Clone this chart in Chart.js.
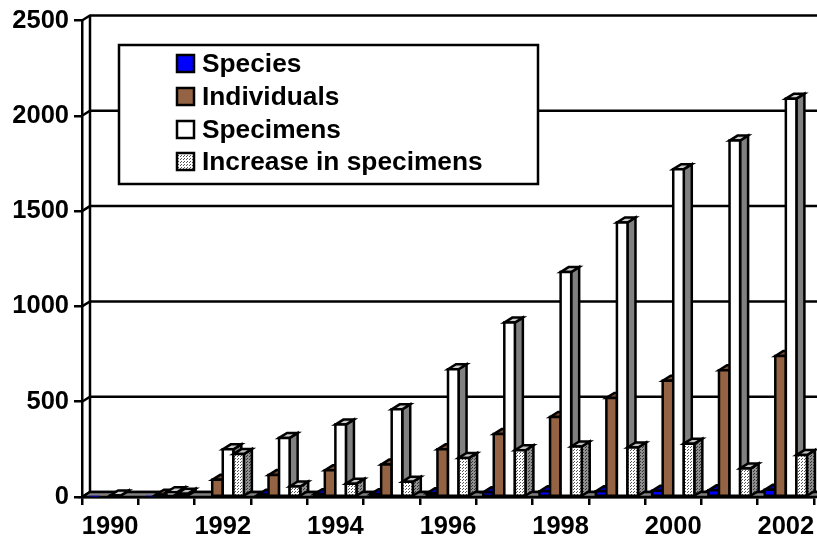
<!DOCTYPE html>
<html>
<head>
<meta charset="utf-8">
<style>
  html, body { margin: 0; padding: 0; background: #fff; }
  canvas { display: block; }
</style>
<script src="https://cdn.jsdelivr.net/npm/chart.js@4"></script>
</head>
<body>
<canvas id="chart" width="817" height="543"></canvas>
<script>
var years = ["1990", "1991", "1992", "1993", "1994", "1995", "1996", "1997", "1998", "1999", "2000", "2001", "2002"];
var species = [2, 4, 6, 12, 15, 15, 20, 25, 30, 30, 33, 35, 38];
var individuals = [5, 12, 90, 115, 140, 170, 250, 330, 420, 520, 610, 665, 740];
var specimens = [8, 25, 250, 310, 380, 460, 670, 915, 1180, 1440, 1720, 1870, 2090];
var increase = [0, 17, 225, 55, 70, 80, 205, 245, 265, 260, 280, 150, 220];
var yTicks = [0, 500, 1000, 1500, 2000, 2500];
var legendY = [63.5, 96.5, 129.5, 161.5];

var FONT = "bold 26.3px 'Liberation Sans', Arial, sans-serif";
var DX = 8, DY = 5;

// stipple used by "Increase in specimens"
function stipple(bg, dot) {
  var c = document.createElement("canvas");
  c.width = 3; c.height = 3;
  var x = c.getContext("2d");
  x.fillStyle = bg; x.fillRect(0, 0, 3, 3);
  x.fillStyle = dot; x.fillRect(0, 0, 1, 1); x.fillRect(1, 2, 1, 1);
  return document.getElementById("chart").getContext("2d").createPattern(c, "repeat");
}
var dots = stipple("#ffffff", "#555555");
var dotsSide = stipple("#909090", "#333333");

var faces = [
  { front: "#0000ff", top: "#0000aa", side: "#000080" },
  { front: "#946343", top: "#7a4f35", side: "#6a452e" },
  { front: "#ffffff", top: "#cccccc", side: "#808080" },
  { front: dots, top: "#c0c0c0", side: dotsSide }
];

function poly(ctx, pts, fill) {
  ctx.beginPath();
  ctx.moveTo(pts[0][0], pts[0][1]);
  for (var i = 1; i < pts.length; i++) ctx.lineTo(pts[i][0], pts[i][1]);
  ctx.closePath();
  ctx.fillStyle = fill;
  ctx.fill();
  ctx.stroke();
}

// back wall, floor and the offset grid lines
var wallPlugin = {
  id: "wall",
  beforeDatasetsDraw: function (chart) {
    var ctx = chart.ctx, a = chart.chartArea, y = chart.scales.y;
    var right = chart.width;
    ctx.save();
    ctx.strokeStyle = "#000";
    ctx.lineWidth = 2.5;
    yTicks.forEach(function (v) {
      var py = y.getPixelForValue(v);
      ctx.beginPath();
      ctx.moveTo(a.left, py);
      ctx.lineTo(a.left + DX, py - DY);
      ctx.lineTo(right, py - DY);
      ctx.stroke();
    });
    ctx.beginPath();
    ctx.moveTo(a.left + DX, y.getPixelForValue(0) - DY);
    ctx.lineTo(a.left + DX, y.getPixelForValue(2500) - DY);
    ctx.stroke();
    var b = y.getPixelForValue(0);
    poly(ctx, [[a.left, b], [a.left + DX, b - DY], [right + DX, b - DY], [right, b]], "#808080");
    ctx.restore();
  }
};

// repaint the bars left to right with their top and side faces
var barsPlugin = {
  id: "bars3d",
  afterDatasetsDraw: function (chart) {
    var ctx = chart.ctx;
    ctx.save();
    ctx.strokeStyle = "#000";
    ctx.lineWidth = 2.5;
    ctx.lineJoin = "miter";
    years.forEach(function (yr, i) {
      for (var d = 0; d < 4; d++) {
        var bar = chart.getDatasetMeta(d).data[i];
        var f = faces[d];
        var l = bar.x - bar.width / 2, r = bar.x + bar.width / 2, t = bar.y, b = bar.base;
        if (b - t <= 0) continue;
        poly(ctx, [[r, b], [r + DX, b - DY], [r + DX, t - DY], [r, t]], f.side);
        poly(ctx, [[l, t], [l + DX, t - DY], [r + DX, t - DY], [r, t]], f.top);
        poly(ctx, [[l, t], [r, t], [r, b], [l, b]], f.front);
      }
    });
    ctx.restore();
  }
};

var legendPlugin = {
  id: "boxLegend",
  afterDraw: function (chart) {
    var ctx = chart.ctx;
    ctx.save();
    ctx.strokeStyle = "#000";
    ctx.lineWidth = 2.5;
    ctx.fillStyle = "#fff";
    ctx.fillRect(119, 45, 419, 139);
    ctx.strokeRect(119, 45, 419, 139);
    ctx.font = FONT;
    ctx.textBaseline = "middle";
    chart.data.datasets.forEach(function (ds, d) {
      var cy = legendY[d];
      ctx.fillStyle = faces[d].front;
      ctx.fillRect(177, cy - 8.5, 17, 17);
      ctx.strokeRect(177, cy - 8.5, 17, 17);
      ctx.fillStyle = "#000";
      ctx.fillText(ds.label, 202, cy + 1);
    });
    ctx.restore();
  }
};

new Chart(document.getElementById("chart"), {
  type: "bar",
  data: {
    labels: years,
    datasets: [
      { label: "Species", data: species, backgroundColor: "#0000ff" },
      { label: "Individuals", data: individuals, backgroundColor: "#946343" },
      { label: "Specimens", data: specimens, backgroundColor: "#ffffff" },
      { label: "Increase in specimens", data: increase, backgroundColor: "#ffffff" }
    ]
  },
  plugins: [wallPlugin, barsPlugin, legendPlugin],
  options: {
    responsive: false,
    animation: false,
    datasets: { bar: { barPercentage: 1, categoryPercentage: 0.75 } },
    layout: { padding: { top: 20.5, right: 3 } },
    plugins: { legend: { display: false }, tooltip: { enabled: false } },
    scales: {
      x: {
        afterFit: function (s) { s.height = 46; s.paddingLeft = 0; s.paddingRight = 0; },
        border: { color: "#000", width: 2.5 },
        grid: { offset: true, drawOnChartArea: false, color: "#000", lineWidth: 2.5, tickLength: 8 },
        ticks: {
          color: "#000",
          font: { family: "'Liberation Sans', Arial, sans-serif", size: 25.5, weight: "bold" },
          autoSkip: false,
          maxRotation: 0,
          padding: 7,
          callback: function (v, i) { return i % 2 === 0 ? years[i] : ""; }
        }
      },
      y: {
        min: 0,
        max: 2500,
        afterFit: function (s) { s.width = 82; },
        border: { color: "#000", width: 2.5 },
        grid: { drawOnChartArea: false, color: "#000", lineWidth: 2.5, tickLength: 8 },
        afterBuildTicks: function (s) { s.ticks = yTicks.map(function (v) { return { value: v }; }); },
        ticks: {
          color: "#000",
          font: { family: "'Liberation Sans', Arial, sans-serif", size: 25.5, weight: "bold" },
          padding: 5,
          callback: function (v) { return String(v); }
        }
      }
    }
  }
});
</script>
</body>
</html>
